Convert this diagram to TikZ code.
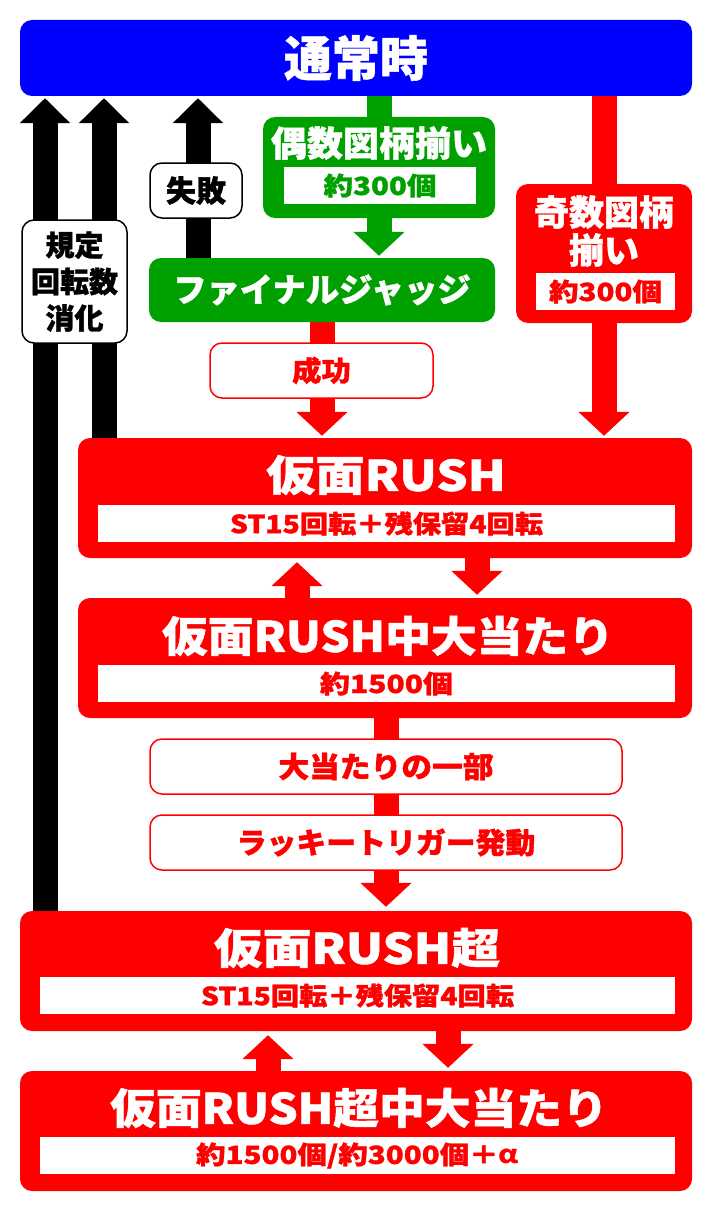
\documentclass[tikz,border=0pt]{standalone}
\usepackage{fontspec}
\setmainfont{Noto Sans CJK JP}[BoldFeatures={FakeBold=1.2}]
\usetikzlibrary{arrows.meta}
\definecolor{myblue}{RGB}{0,0,255}
\definecolor{myred}{RGB}{255,0,0}
\definecolor{mygreen}{RGB}{0,160,0}
\pgfdeclarelayer{bg}\pgfsetlayers{bg,main}
\newcommand\fs[1]{\fontsize{#1}{#1}\selectfont\bfseries}
\newcommand\sx[2]{\scalebox{#1}[1]{#2}}
\tikzset{
  bigbox/.style={rounded corners=12pt, inner sep=0pt, fill=#1},
  whitebar/.style={fill=white, inner sep=0pt},
  lbl/.style={fill=white, draw=#1, line width=1.5pt, rounded corners=12pt, inner sep=0pt, text=#1},
  shaft/.style={line width=25pt, draw=#1},
  harrow/.style={line width=25pt, draw=#1, -{Triangle[length={24pt 0}, width={50pt 0}]}},
  barrow/.style={line width=25pt, draw=black, -{Triangle[length={25pt 0}, width={49pt 0}]}},
}
\begin{document}
\begin{tikzpicture}[x=1pt,y=-1pt]
\useasboundingbox (0,0) rectangle (712,1212);
% top
\node[bigbox=myblue, minimum width=672pt, minimum height=76pt] (top) at (356,58) {};
\node[font=\fs{48}, text=white] (toptxt) at (356,58) {通常時};
% even
\node[bigbox=mygreen, minimum width=232pt, minimum height=101pt] (even) at (379,167.5) {};
\node[font=\fs{35}, text=white] (eventxt) at (379,143) {\sx{1.03}{偶数図柄揃い}};
\node[whitebar, minimum width=192pt, minimum height=37pt, font=\fs{25}, text=mygreen] (evenbar) at (380,185.5) {\sx{1.18}{約300個}};
% judge
\node[bigbox=mygreen, minimum width=346pt, minimum height=64pt] (judge) at (322,290) {};
\node[font=\fs{33}, text=white] (judgetxt) at (322,290) {\sx{1.01}{ファイナルジャッジ}};
% odd
\node[bigbox=myred, minimum width=176pt, minimum height=139pt] (odd) at (604,253.5) {};
\node[align=center, font={\fontsize{35}{38}\selectfont\bfseries}, text=white] (oddtxt) at (604,231) {奇数図柄\\揃い};
\node[whitebar, minimum width=139pt, minimum height=37pt, font=\fs{25}, text=myred] (oddbar) at (605.5,291.5) {\sx{1.18}{約300個}};
% fail
\node[lbl=black, minimum width=92pt, minimum height=55pt, font=\fs{30}] (fail) at (196,190.5) {失敗};
% rule
\node[lbl=black, minimum width=105pt, minimum height=123pt, align=center, font={\fontsize{29}{36.5}\selectfont\bfseries}] (rule) at (74.5,281.5) {規定\\回転数\\消化};
% success
\node[lbl=myred, minimum width=223pt, minimum height=55pt, font=\fs{28}] (success) at (321.5,370.5) {\sx{1.05}{成功}};
% rush
\node[bigbox=myred, minimum width=614pt, minimum height=120pt] (rush) at (385,498) {};
\node[font=\fs{42}, text=white] (rushtxt) at (386,475) {\sx{1.17}{仮面RUSH}};
\node[whitebar, minimum width=577pt, minimum height=37pt, font=\fs{25}, text=myred] (rushbar) at (386.5,523.5) {\sx{1.13}{ST15回転＋残保留4回転}};
% hit
\node[bigbox=myred, minimum width=614pt, minimum height=120pt] (hit) at (385,658) {};
\node[font=\fs{42}, text=white] (hittxt) at (388,636) {\sx{1.09}{仮面RUSH中大当たり}};
\node[whitebar, minimum width=577pt, minimum height=37pt, font=\fs{25}, text=myred] (hitbar) at (386.5,683.5) {\sx{1.2}{約1500個}};
% part / lucky
\node[lbl=myred, minimum width=472pt, minimum height=55pt, font=\fs{29}] (part) at (386,766.5) {\sx{1.06}{大当たりの一部}};
\node[lbl=myred, minimum width=472pt, minimum height=55pt, font=\fs{29}] (lucky) at (386,842.5) {\sx{1.03}{ラッキートリガー発動}};
% super
\node[bigbox=myred, minimum width=672pt, minimum height=120pt] (super) at (356,971) {};
\node[font=\fs{42}, text=white] (supertxt) at (357,948) {\sx{1.16}{仮面RUSH超}};
\node[whitebar, minimum width=635pt, minimum height=37pt, font=\fs{25}, text=myred] (superbar) at (357.5,995.5) {\sx{1.13}{ST15回転＋残保留4回転}};
% superhit
\node[bigbox=myred, minimum width=672pt, minimum height=120pt] (superhit) at (356,1131) {};
\node[font=\fs{42}, text=white] (superhittxt) at (359,1108) {\sx{1.09}{仮面RUSH超中大当たり}};
\node[whitebar, minimum width=635pt, minimum height=37pt, font=\fs{25}, text=myred] (superhitbar) at (357.5,1155.5) {\sx{1.18}{約1500個/約3000個＋\textit{α}}};
% x positions
\coordinate (xb1) at (45,0);
\coordinate (xb2) at (104,0);
\coordinate (xb3) at (198,0);
\coordinate (xu1) at (297,0);
\coordinate (xd1) at (477,0);
\coordinate (xu2) at (268,0);
\coordinate (xd2) at (448,0);
\coordinate (xc) at (386,0);
\begin{pgfonlayer}{bg}
\draw[barrow, shorten >=2pt] (super.north -| xb1) -- (top.south -| xb1);
\draw[barrow, shorten >=2pt] (rush.north -| xb2) -- (top.south -| xb2);
\draw[barrow, shorten >=2pt] (judge.north -| xb3) -- (top.south -| xb3);
\draw[shaft=mygreen] (top.south -| even.north) -- (even.north);
\draw[harrow=mygreen, shorten >=2pt] (even.south) -- (even.south |- judge.north);
\draw[shaft=myred] (top.south -| odd.north) -- (odd.north);
\draw[harrow=myred, shorten >=2pt] (odd.south) -- (odd.south |- rush.north);
\draw[harrow=myred, shorten >=2pt] (judge.south) -- (judge.south |- rush.north);
\draw[harrow=myred, shorten >=4pt] (hit.north -| xu1) -- (rush.south -| xu1);
\draw[harrow=myred, shorten >=3pt] (rush.south -| xd1) -- (hit.north -| xd1);
\draw[harrow=myred, shorten >=4pt] (hit.south -| xc) -- (super.north -| xc);
\draw[harrow=myred, shorten >=4pt] (superhit.north -| xu2) -- (super.south -| xu2);
\draw[harrow=myred, shorten >=3pt] (super.south -| xd2) -- (superhit.north -| xd2);
\end{pgfonlayer}
\end{tikzpicture}
\end{document}
